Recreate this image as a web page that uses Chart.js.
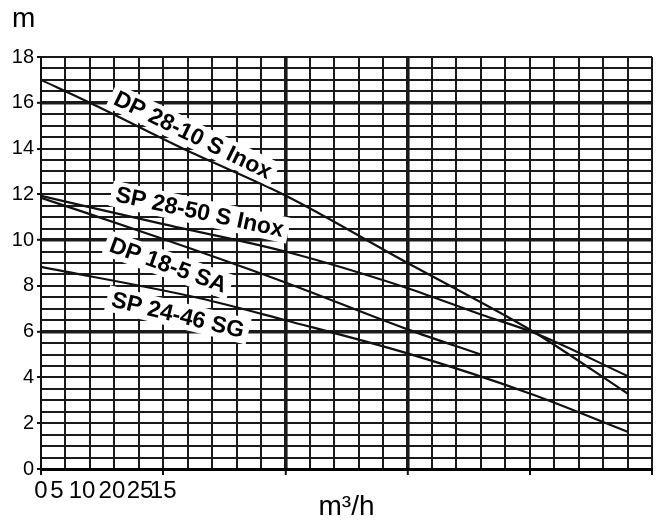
<!DOCTYPE html>
<html>
<head>
<meta charset="utf-8">
<script src="https://cdn.jsdelivr.net/npm/chart.js@4.4.1/dist/chart.umd.min.js"></script>
<style>
    html, body { margin: 0; padding: 0; background: #fff; }
    #wrap { width: 656px; height: 521px; }
</style>
</head>
<body>
<div id="wrap"><canvas id="pumps" width="656" height="521"></canvas></div>
<script>
// flow is in grid divisions (0..25), head in metres
const seriesNames = ['DP 28-10 S Inox', 'SP 28-50 S Inox', 'DP 18-5 SA', 'SP 24-46 SG'];

const dp2810Flow = [0, 2, 6, 10, 15, 19, 20.3, 24];
const dp2810Head = [17, 16, 13.9, 11.95, 9.0, 6.7, 5.9, 3.3];

const sp2850Flow = [0, 5, 10, 15, 18, 20.3, 24];
const sp2850Head = [11.93, 10.7, 9.5, 7.9, 6.75, 5.9, 4.06];

const dp185Flow = [0, 5, 10, 15, 18];
const dp185Head = [11.85, 10.05, 8.15, 6.1, 5.0];

const sp2446Flow = [0, 6.5, 10, 15, 20, 24];
const sp2446Head = [8.83, 7.46, 6.5, 5.05, 3.3, 1.63];

// the printed flow labels, squeezed at the left end of the axis
const flowTickLabels = ['0', '5', '10', '20', '25', '15'];
const flowTickValues = [0, 0.65, 1.68, 2.9, 4.05, 5];

const headTickStep = 2;
const boldHeads = [6, 10, 16];
const boldFlows = [10, 15];

const FONT = "'Liberation Sans', Arial, Helvetica, sans-serif";

function toPoints(xs, ys) {
    return xs.map((v, i) => ({x: v, y: ys[i]}));
}

function curve(label, xs, ys) {
    return {
        label: label,
        data: toPoints(xs, ys),
        borderColor: '#111',
        borderWidth: 2.2,
        pointRadius: 0,
        fill: false,
        cubicInterpolationMode: 'monotone'
    };
}

function isGridTick(v) {
    return Number.isInteger(v);
}

const curveLabels = {
    id: 'curveLabels',
    afterDatasetsDraw(chart, args, opts) {
        const {ctx, scales: {x, y}} = chart;
        ctx.save();
        ctx.font = opts.font;
        opts.items.forEach((it, i) => {
            const px = x.getPixelForValue(it.x);
            const py = y.getPixelForValue(it.y);
            const text = seriesNames[i];
            const w = ctx.measureText(text).width;
            ctx.save();
            ctx.translate(px, py);
            ctx.rotate(it.angle * Math.PI / 180);
            ctx.fillStyle = '#fff';
            ctx.fillRect(-w / 2 - 5, -13, w + 10, 26);
            ctx.fillStyle = '#000';
            ctx.textAlign = 'center';
            ctx.textBaseline = 'middle';
            ctx.fillText(text, 0, 1);
            ctx.restore();
        });

        // unit of the head axis
        ctx.font = opts.unitFont;
        ctx.fillStyle = '#000';
        ctx.textAlign = 'left';
        ctx.textBaseline = 'alphabetic';
        ctx.fillText('m', 12, 27);
        ctx.restore();
    }
};

const config = {
    type: 'line',
    data: {
        datasets: [
            curve(seriesNames[0], dp2810Flow, dp2810Head),
            curve(seriesNames[1], sp2850Flow, sp2850Head),
            curve(seriesNames[2], dp185Flow, dp185Head),
            curve(seriesNames[3], sp2446Flow, sp2446Head)
        ]
    },
    options: {
        responsive: false,
        animation: false,
        layout: {padding: {top: 57, right: 4, bottom: 0, left: 0}},
        plugins: {
            legend: {display: false},
            tooltip: {enabled: false},
            curveLabels: {
                font: 'bold 23px ' + FONT,
                unitFont: '28px ' + FONT,
                items: [
                    {x: 6.22, y: 14.59, angle: 26},
                    {x: 6.5, y: 11.23, angle: 12},
                    {x: 5.2, y: 8.91, angle: 20},
                    {x: 5.6, y: 6.73, angle: 13.5}
                ]
            }
        },
        scales: {
            x: {
                type: 'linear',
                position: 'bottom',
                min: 0,
                max: 25,
                afterFit(scale) { scale.height = 52; },
                afterBuildTicks(scale) {
                    // one tick per grid division plus the printed label spots
                    const vals = [];
                    for (let i = 0; i <= 25; i++) vals.push(i);
                    flowTickValues.forEach(v => { if (!vals.includes(v)) vals.push(v); });
                    vals.sort((a, b) => a - b);
                    scale.ticks = vals.map(v => ({value: v}));
                },
                grid: {
                    color: c => (c.tick && isGridTick(c.tick.value)) ? '#1a1a1a' : 'rgba(0,0,0,0)',
                    lineWidth: c => boldFlows.includes(c.tick && c.tick.value) ? 3.6 : 2,
                    drawTicks: true,
                    tickLength: 6,
                    tickWidth: 2,
                    tickColor: c => (c.tick && isGridTick(c.tick.value) && c.tick.value % 5 === 0) ? '#111' : 'rgba(0,0,0,0)'
                },
                border: {display: true, color: '#000', width: 3},
                ticks: {
                    autoSkip: false,
                    maxRotation: 0,
                    minRotation: 0,
                    padding: 2,
                    color: '#000',
                    font: {family: FONT, size: 24},
                    callback: v => {
                        const i = flowTickValues.indexOf(v);
                        return i >= 0 ? flowTickLabels[i] : '';
                    }
                },
                title: {
                    display: true,
                    text: 'm³/h',
                    color: '#000',
                    font: {family: FONT, size: 28, lineHeight: 1},
                    padding: 0
                }
            },
            y: {
                type: 'linear',
                min: 0,
                max: 18,
                afterFit(scale) { scale.width = 41; },
                grid: {
                    color: '#1a1a1a',
                    lineWidth: c => boldHeads.includes(c.tick && c.tick.value) ? 3.6 : 2,
                    drawTicks: true,
                    tickLength: 4,
                    tickWidth: 2,
                    tickColor: c => (c.tick && c.tick.value % headTickStep === 0) ? '#111' : 'rgba(0,0,0,0)'
                },
                border: {display: true, color: '#111', width: 2},
                ticks: {
                    stepSize: 0.5,
                    autoSkip: false,
                    padding: 3,
                    color: '#000',
                    font: {family: FONT, size: 20},
                    callback: v => (v % headTickStep === 0 ? String(v) : '')
                }
            }
        }
    },
    plugins: [curveLabels]
};

new Chart(document.getElementById('pumps').getContext('2d'), config);
</script>
</body>
</html>
